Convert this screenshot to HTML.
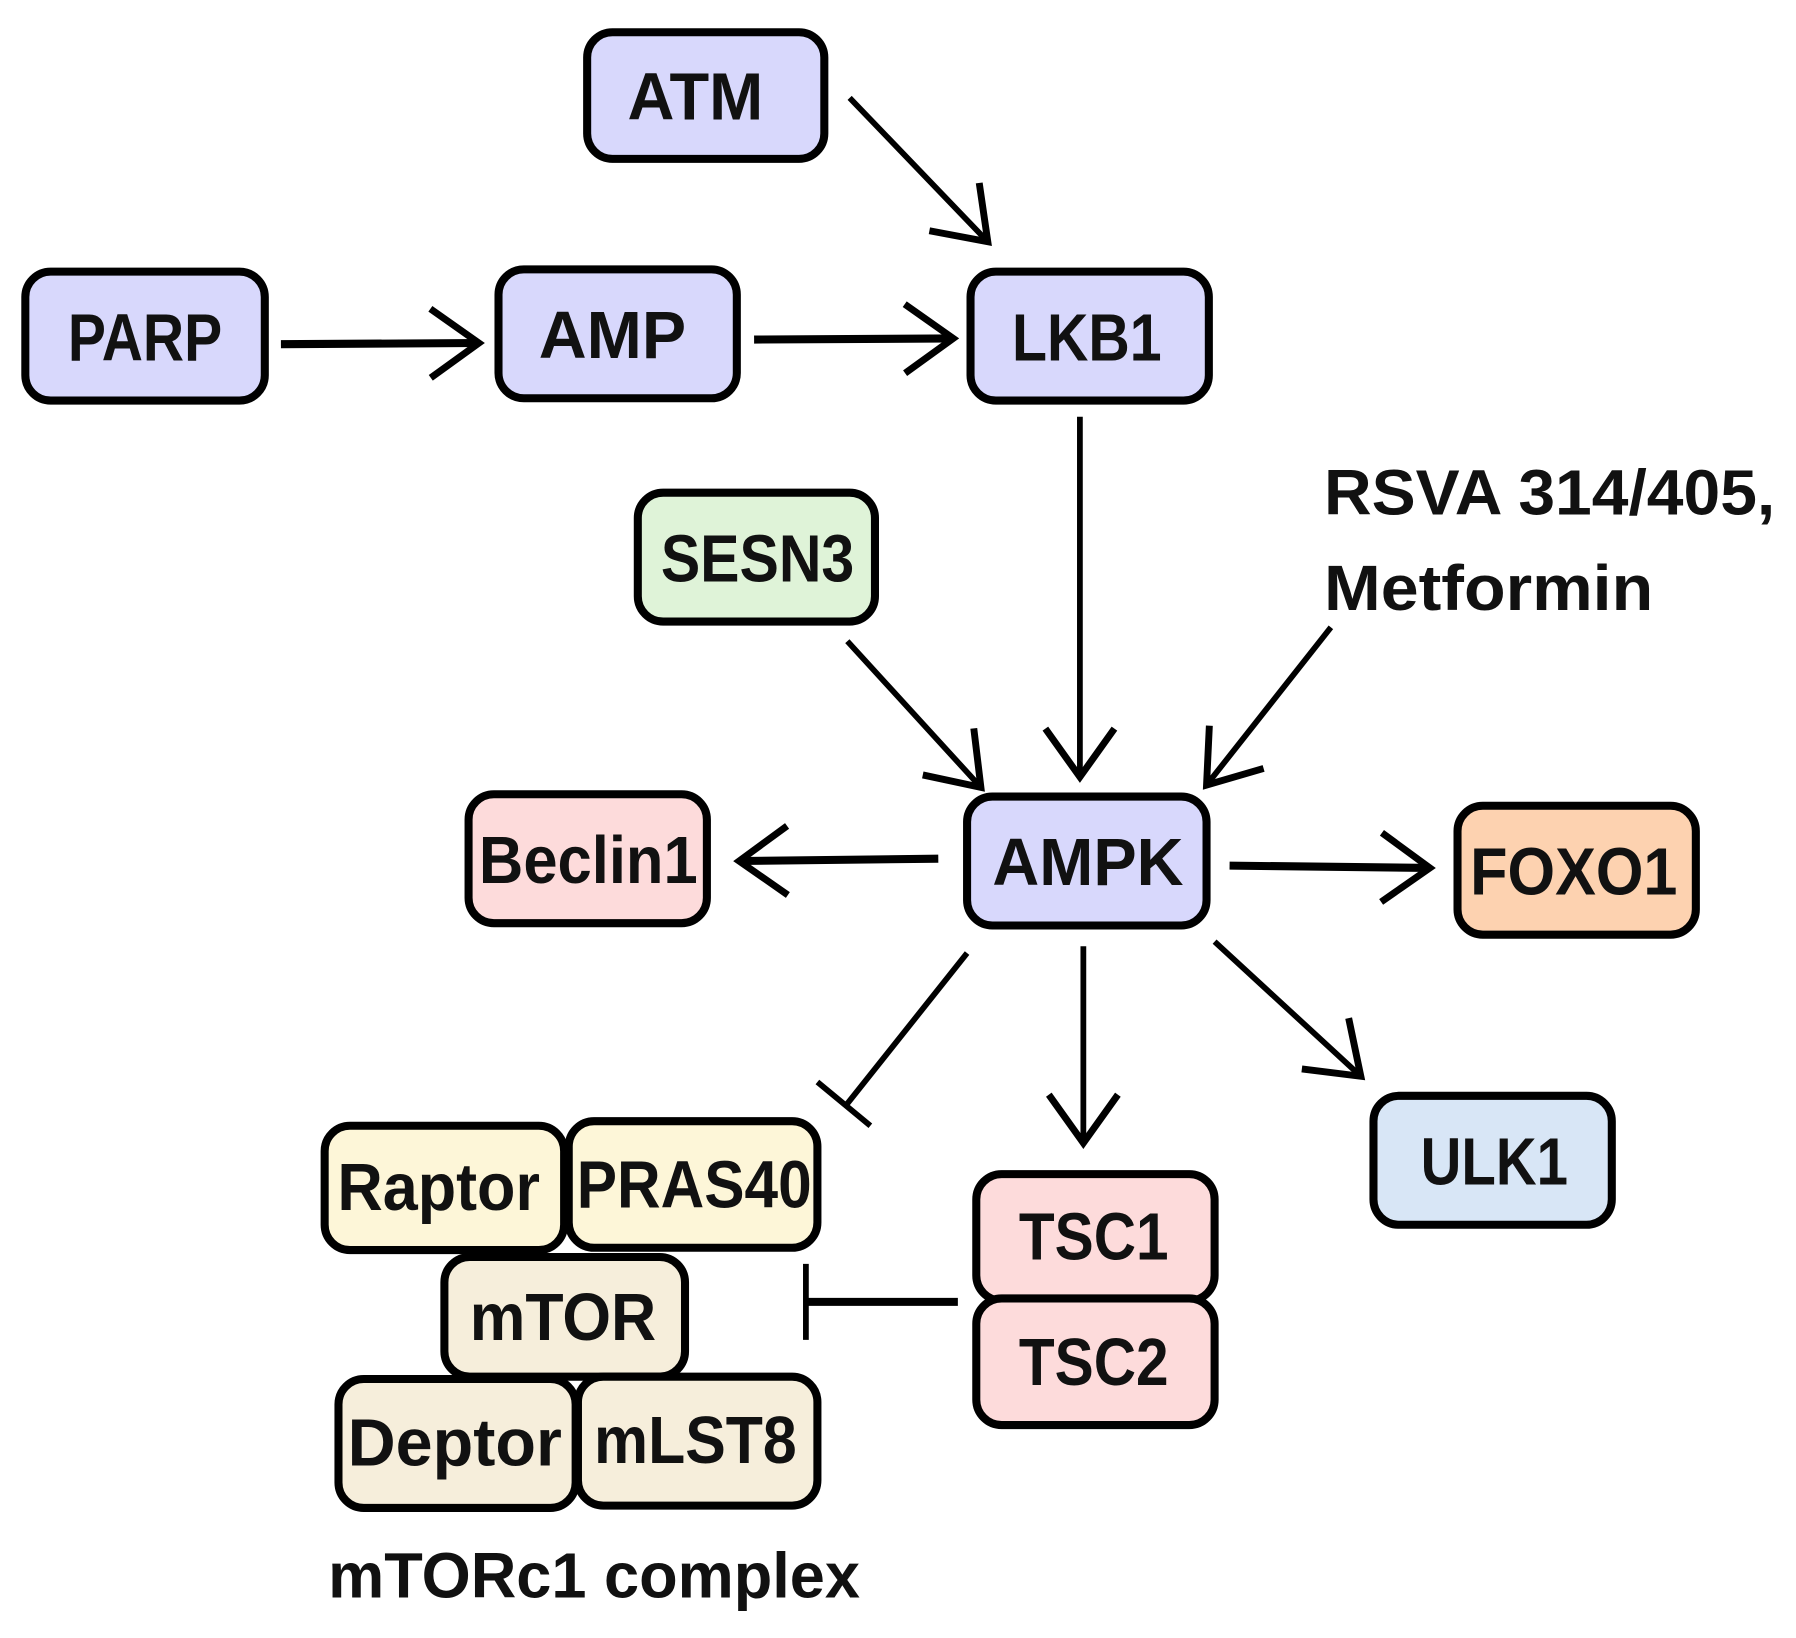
<!DOCTYPE html>
<html><head><meta charset="utf-8"><style>
html,body{margin:0;padding:0;background:#fff;}
svg{display:block;}
text{font-family:"Liberation Sans",sans-serif;font-weight:bold;fill:#111;}
</style></head><body>
<svg width="1796" height="1638" viewBox="0 0 1560 1423" preserveAspectRatio="none" xmlns="http://www.w3.org/2000/svg">
<defs>
<marker id="a" markerUnits="userSpaceOnUse" markerWidth="80" markerHeight="80" refX="0" refY="0" viewBox="-50 -40 60 80" orient="auto" overflow="visible">
<path d="M-42,-30 L0,0 L-42,30" fill="none" stroke="#000" stroke-width="6"/>
</marker>
</defs>
<g stroke="#000" stroke-width="5" fill="none">
<line x1="738" y1="85" x2="858" y2="210" marker-end="url(#a)"/>
<line x1="244" y1="299" x2="416" y2="298" stroke-width="7" marker-end="url(#a)"/>
<line x1="655" y1="295" x2="828" y2="294" stroke-width="7" marker-end="url(#a)"/>
<line x1="938" y1="362" x2="938" y2="675" marker-end="url(#a)"/>
<line x1="736" y1="557" x2="852" y2="684" marker-end="url(#a)"/>
<line x1="1156" y1="545" x2="1048" y2="682" marker-end="url(#a)"/>
<line x1="815" y1="746" x2="642" y2="748" stroke-width="7" marker-end="url(#a)"/>
<line x1="1068" y1="752" x2="1242" y2="754" stroke-width="7" marker-end="url(#a)"/>
<line x1="1055" y1="818" x2="1182" y2="935" marker-end="url(#a)"/>
<line x1="941" y1="822" x2="941" y2="993" marker-end="url(#a)"/>
<line x1="840" y1="828" x2="735" y2="960"/>
<line x1="710" y1="940" x2="756" y2="978"/>
<line x1="832" y1="1131" x2="700" y2="1131" stroke-width="7"/>
<line x1="700" y1="1098" x2="700" y2="1164"/>
</g>
<g stroke="#000" stroke-width="7">
<rect x="510" y="28" width="206" height="110" rx="22" fill="#d8d8fc"/>
<rect x="22" y="236" width="208" height="112" rx="22" fill="#d8d8fc"/>
<rect x="433" y="234" width="207" height="112" rx="22" fill="#d8d8fc"/>
<rect x="843" y="236" width="207" height="112" rx="22" fill="#d8d8fc"/>
<rect x="554" y="428" width="206" height="112" rx="22" fill="#dff3d8"/>
<rect x="840" y="692" width="208" height="112" rx="22" fill="#d8d8fc"/>
<rect x="407" y="690" width="207" height="112" rx="22" fill="#fddbdb"/>
<rect x="1266" y="700" width="207" height="112" rx="22" fill="#fdd2b0"/>
<rect x="1193" y="952" width="207" height="112" rx="22" fill="#d8e6f6"/>
<rect x="848" y="1020" width="207" height="110" rx="22" fill="#fddbdb"/>
<rect x="848" y="1128" width="207" height="110" rx="22" fill="#fddbdb"/>
<rect x="282" y="978" width="208" height="108" rx="22" fill="#fdf6d8"/>
<rect x="494" y="974" width="216" height="110" rx="22" fill="#fdf6d8"/>
<rect x="386" y="1092" width="209" height="104" rx="22" fill="#f6eedb"/>
<rect x="294" y="1198" width="206" height="112" rx="22" fill="#f6eedb"/>
<rect x="502" y="1196" width="208" height="112" rx="22" fill="#f6eedb"/>
</g>
<g font-size="58" text-anchor="middle">
<text x="604" y="104" textLength="118" lengthAdjust="spacingAndGlyphs">ATM</text>
<text x="126" y="313" textLength="134" lengthAdjust="spacingAndGlyphs">PARP</text>
<text x="532" y="311" textLength="128" lengthAdjust="spacingAndGlyphs">AMP</text>
<text x="944" y="313" textLength="130" lengthAdjust="spacingAndGlyphs">LKB1</text>
<text x="658" y="505" textLength="168" lengthAdjust="spacingAndGlyphs">SESN3</text>
<text x="945" y="769" textLength="166" lengthAdjust="spacingAndGlyphs">AMPK</text>
<text x="511" y="767" textLength="190" lengthAdjust="spacingAndGlyphs">Beclin1</text>
<text x="1367" y="777" textLength="180" lengthAdjust="spacingAndGlyphs">FOXO1</text>
<text x="1298" y="1029" textLength="128" lengthAdjust="spacingAndGlyphs">ULK1</text>
<text x="950" y="1094" textLength="130" lengthAdjust="spacingAndGlyphs">TSC1</text>
<text x="950" y="1203" textLength="130" lengthAdjust="spacingAndGlyphs">TSC2</text>
<text x="381" y="1051" textLength="176" lengthAdjust="spacingAndGlyphs">Raptor</text>
<text x="603" y="1049" textLength="204" lengthAdjust="spacingAndGlyphs">PRAS40</text>
<text x="489" y="1164" textLength="162" lengthAdjust="spacingAndGlyphs">mTOR</text>
<text x="395" y="1273" textLength="186" lengthAdjust="spacingAndGlyphs">Deptor</text>
<text x="604" y="1271" textLength="176" lengthAdjust="spacingAndGlyphs">mLST8</text>
</g>
<g font-size="56">
<text x="1150" y="447" textLength="392" lengthAdjust="spacingAndGlyphs">RSVA 314/405,</text>
<text x="1150" y="530" textLength="286" lengthAdjust="spacingAndGlyphs">Metformin</text>
<text x="285" y="1388" textLength="462" lengthAdjust="spacingAndGlyphs">mTORc1 complex</text>
</g>
</svg>
</body></html>
